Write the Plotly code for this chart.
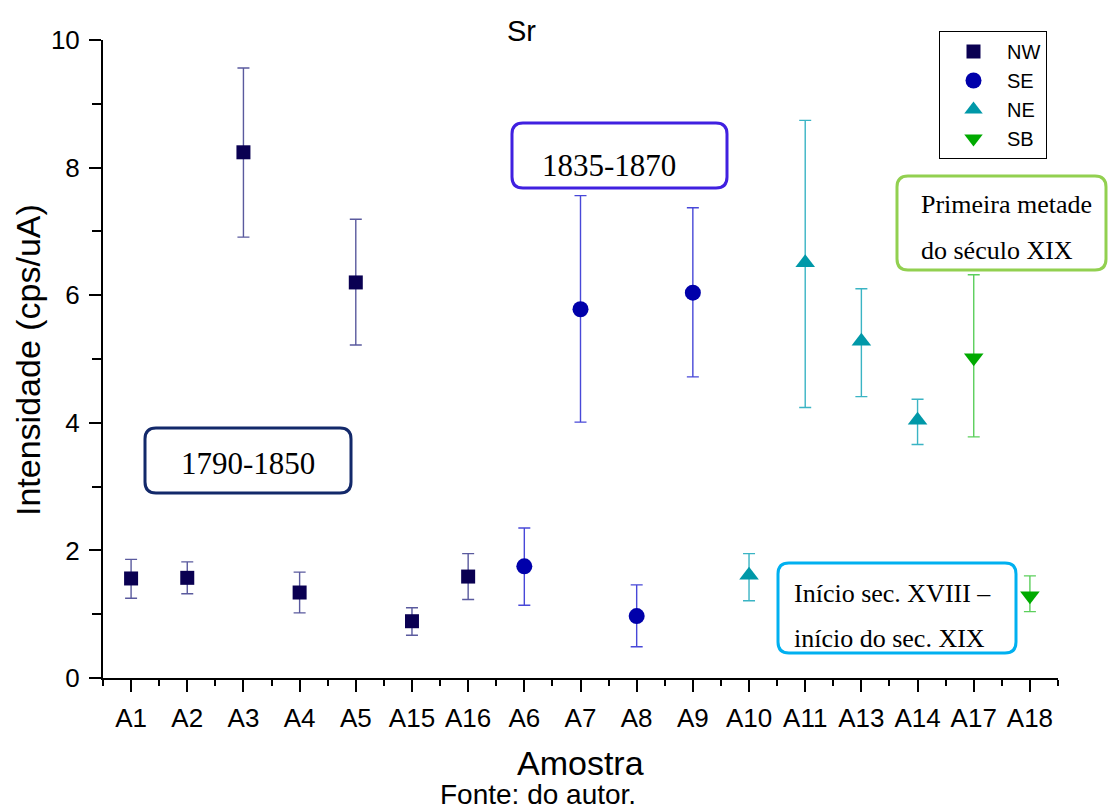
import plotly.graph_objects as go

# ---------------- data ----------------
categories = ["A1", "A2", "A3", "A4", "A5", "A15", "A16", "A6", "A7", "A8",
              "A9", "A10", "A11", "A13", "A14", "A17", "A18"]

nw_samples = ["A1", "A2", "A3", "A4", "A5", "A15", "A16"]
nw_values = [1.56, 1.57, 8.24, 1.34, 6.20, 0.89, 1.59]
nw_upper = [1.86, 1.82, 9.56, 1.66, 7.19, 1.10, 1.95]
nw_lower = [1.25, 1.32, 6.91, 1.02, 5.22, 0.67, 1.23]

se_samples = ["A6", "A7", "A8", "A9"]
se_values = [1.75, 5.78, 0.97, 6.04]
se_upper = [2.35, 7.56, 1.46, 7.37]
se_lower = [1.14, 4.01, 0.49, 4.72]

ne_samples = ["A10", "A11", "A13", "A14"]
ne_values = [1.61, 6.51, 5.28, 4.04]
ne_upper = [1.95, 8.74, 6.10, 4.37]
ne_lower = [1.21, 4.24, 4.41, 3.66]

sb_samples = ["A17", "A18"]
sb_values = [5.02, 1.29]
sb_upper = [6.32, 1.60]
sb_lower = [3.78, 1.04]

y_ticks = [0, 2, 4, 6, 8, 10]

# ---------------- layout geometry ----------------
W_FIG, H_FIG = 1109, 810
M_L, M_R, M_T, M_B = 103, 51, 40, 132
PW = W_FIG - M_L - M_R
PH = H_FIG - M_T - M_B

def px_x(p):
    return (p - M_L) / PW

def px_y(p):
    return (H_FIG - M_B - p) / PH

SANS = "Liberation Sans, Arial, sans-serif"
SERIF = "Liberation Serif, Times New Roman, serif"

idx = {c: i for i, c in enumerate(categories)}

def add_group(fig, name, samples, values, upper, lower, symbol, size, color, ecolor):
    xs = [idx[s] for s in samples]
    fig.add_trace(go.Scatter(
        x=xs, y=values, mode="markers", name=name,
        marker=dict(symbol=symbol, size=size, color=color,
                    line=dict(width=0)),
        error_y=dict(type="data", symmetric=False,
                     array=[u - v for u, v in zip(upper, values)],
                     arrayminus=[v - l for v, l in zip(values, lower)],
                     color=ecolor, thickness=1.4, width=6),
    ))

fig = go.Figure()
add_group(fig, "NW", nw_samples, nw_values, nw_upper, nw_lower,
          "square", 14, "#0a0052", "#5a5a9e")
add_group(fig, "SE", se_samples, se_values, se_upper, se_lower,
          "circle", 16, "#0000aa", "#4848d8")
add_group(fig, "NE", ne_samples, ne_values, ne_upper, ne_lower,
          "triangle-up", 17, "#0098a8", "#3ab4c4")
add_group(fig, "SB", sb_samples, sb_values, sb_upper, sb_lower,
          "triangle-down", 17, "#00aa00", "#5ccf5c")

# rounded boxes
def rrect(x0, y0, x1, y1, r):
    pts = [
        ("M", [(x0 + r, y0)]),
        ("L", [(x1 - r, y0)]),
        ("Q", [(x1, y0), (x1, y0 + r)]),
        ("L", [(x1, y1 - r)]),
        ("Q", [(x1, y1), (x1 - r, y1)]),
        ("L", [(x0 + r, y1)]),
        ("Q", [(x0, y1), (x0, y1 - r)]),
        ("L", [(x0, y0 + r)]),
        ("Q", [(x0, y0), (x0 + r, y0)]),
    ]
    s = ""
    for cmd, ps in pts:
        s += cmd + " " + " ".join(f"{px_x(a):.5f},{px_y(b):.5f}" for a, b in ps) + " "
    return s + "Z"

boxes = [
    ((145, 428, 351, 493), "#13296a"),
    ((512, 123, 727, 188), "#4020e0"),
    ((897, 176, 1106, 270), "#92d050"),
    ((778, 563, 1016, 653), "#00b0f0"),
]
shapes = []
for (x0, y0, x1, y1), col in boxes:
    shapes.append(dict(type="path", path=rrect(x0, y0, x1, y1, 11),
                       xref="paper", yref="paper",
                       line=dict(color=col, width=3), fillcolor="white",
                       layer="above"))

annotations = []
def text(t, x, y, size, family, xanchor="center", angle=0):
    annotations.append(dict(text=t, x=px_x(x), y=px_y(y), xref="paper", yref="paper",
                            xanchor=xanchor, yanchor="middle", showarrow=False,
                            textangle=angle,
                            font=dict(size=size, family=family, color="black")))

text("1790-1850", 248, 463, 31, SERIF)
text("1835-1870", 609, 165, 31, SERIF)
text("Primeira metade", 919, 204, 26, SERIF, "left")
text("do século XIX", 919, 250, 26, SERIF, "left")
text("Início sec. XVIII –", 792, 593, 26, SERIF, "left")
text("início do sec. XIX", 792, 638, 26, SERIF, "left")
text("Sr", 521, 31, 29, SANS)
text("Amostra", 580, 763, 34, SANS)
text("Fonte: do autor.", 538, 794, 28, SANS)
text("Intensidade (cps/uA)", 28, 360, 34, SANS, angle=-90)

fig.update_layout(
    width=W_FIG, height=H_FIG,
    margin=dict(l=M_L, r=M_R, t=M_T, b=M_B, autoexpand=False),
    paper_bgcolor="white", plot_bgcolor="white",
    font=dict(family=SANS, color="black"),
    shapes=shapes, annotations=annotations,
    showlegend=True,
    legend=dict(x=px_x(939), y=px_y(31), xanchor="left", yanchor="top",
                bordercolor="black", borderwidth=1, bgcolor="white",
                font=dict(size=20, family=SANS), itemwidth=57,
                tracegroupgap=0),
)
fig.update_xaxes(
    range=[-0.5, len(categories) - 0.5],
    tickmode="array", tickvals=list(range(len(categories))), ticktext=categories,
    showline=True, linecolor="black", linewidth=2, mirror=False,
    ticks="outside", ticklen=12, tickwidth=2, tickcolor="black",
    tickfont=dict(size=26, family=SANS), ticklabelstandoff=4,
    minor=dict(tick0=0.5, dtick=1, ticks="outside", ticklen=6, tickwidth=2,
               tickcolor="black"),
    showgrid=False, zeroline=False,
)
fig.update_yaxes(
    range=[0, 10],
    tickmode="array", tickvals=y_ticks,
    showline=True, linecolor="black", linewidth=2,
    ticks="outside", ticklen=12, tickwidth=2, tickcolor="black",
    tickfont=dict(size=26, family=SANS), ticklabelstandoff=4,
    minor=dict(tick0=1, dtick=2, ticks="outside", ticklen=9, tickwidth=2,
               tickcolor="black"),
    showgrid=False, zeroline=False,
)

fig.write_html("out.html", config={"displayModeBar": False},
               post_script="document.body.style.margin='0';")
